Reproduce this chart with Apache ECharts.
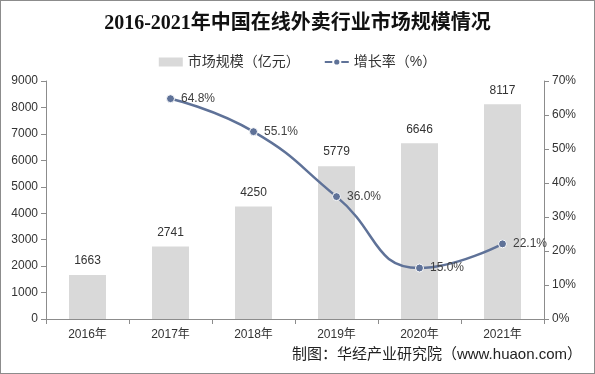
<!DOCTYPE html>
<html><head><meta charset="utf-8">
<script src="https://cdn.jsdelivr.net/npm/echarts@6/dist/echarts.min.js"></script>
<style>html,body{margin:0;padding:0;background:#fff}#c{width:595px;height:374px;box-sizing:border-box;border:1px solid #8c8c8c}</style>
</head><body><div id="c"></div>
<script>
const categories = ['2016年','2017年','2018年','2019年','2020年','2021年'];
const marketSize = [1663, 2741, 4250, 5779, 6646, 8117];
const growthRate = [null, 64.8, 55.1, 36.0, 15.0, 22.1];
const chart = echarts.init(document.getElementById('c'));
const fam = 'Arial, "Liberation Sans", "Noto Sans CJK SC", sans-serif';
chart.setOption({
  animation: false,
  textStyle: {fontFamily: fam},
  title: {
    text: '2016-2021年中国在线外卖行业市场规模情况',
    left: 'center', top: 8,
    textStyle: {fontFamily: '"Liberation Serif", "Noto Sans CJK SC", serif', fontSize: 20, fontWeight: 'bold', color: '#111'}
  },
  legend: {
    top: 49, left: 'center', itemGap: 24, itemWidth: 24, itemHeight: 9,
    textStyle: {fontSize: 14, color: '#333', fontFamily: fam},
    data: [{name: '市场规模（亿元）', icon: 'rect'}, {name: '增长率（%）'}]
  },
  grid: {left: 45, right: 50, top: 80, bottom: 54, containLabel: false},
  xAxis: {
    type: 'category', data: categories,
    axisLine: {lineStyle: {color: '#8c8c8c'}},
    axisTick: {show: true, alignWithLabel: false, lineStyle: {color: '#8c8c8c'}},
    axisLabel: {color: '#333', fontSize: 12, margin: 10}
  },
  yAxis: [{
    type: 'value', min: 0, max: 9000, interval: 1000,
    axisLine: {show: true, lineStyle: {color: '#8c8c8c'}},
    axisTick: {show: true, lineStyle: {color: '#8c8c8c'}},
    splitLine: {show: false},
    axisLabel: {color: '#333', fontSize: 12, margin: 8, formatter: v => String(v)}
  }, {
    type: 'value', min: 0, max: 70, interval: 10,
    axisLine: {show: true, lineStyle: {color: '#8c8c8c'}},
    axisTick: {show: true, lineStyle: {color: '#8c8c8c'}},
    splitLine: {show: false},
    axisLabel: {color: '#333', fontSize: 12, margin: 8, formatter: '{value}%'}
  }],
  series: [{
    name: '市场规模（亿元）', type: 'bar', data: marketSize, barWidth: 37,
    itemStyle: {color: '#d9d9d9'},
    label: {show: true, position: 'top', distance: 8, color: '#333', fontSize: 12, formatter: p => String(p.value)}
  }, {
    name: '增长率（%）', type: 'line', yAxisIndex: 1, data: growthRate,
    smooth: true, symbol: 'circle', symbolSize: 8,
    lineStyle: {color: '#5f7298', width: 2.5},
    itemStyle: {color: '#5f7298', borderColor: '#fff', borderWidth: 1},
    label: {show: true, position: 'right', distance: 6, color: '#404040', fontSize: 12,
      formatter: p => p.value.toFixed(1) + '%'}
  }],
  graphic: [{
    type: 'text', right: 12, top: 346,
    style: {text: '制图：华经产业研究院（www.huaon.com）', fill: '#222', fontSize: 15, fontFamily: fam}
  }]
});
</script></body></html>
